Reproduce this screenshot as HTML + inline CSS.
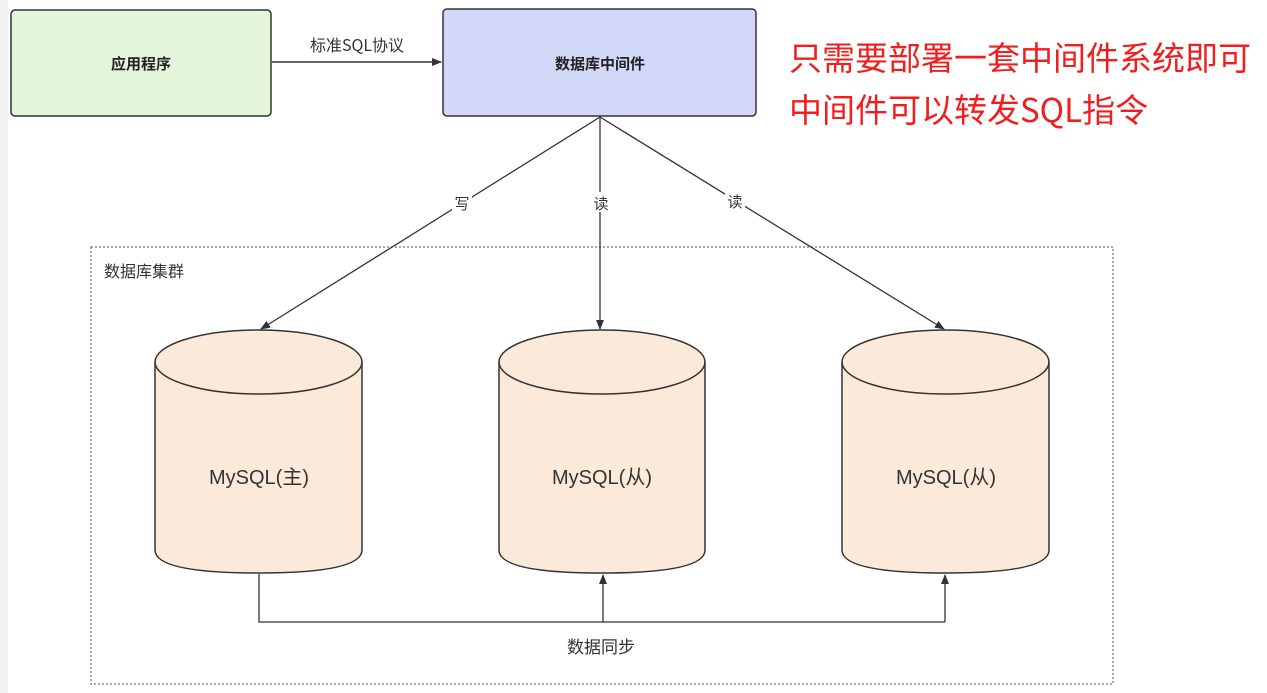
<!DOCTYPE html>
<html><head><meta charset="utf-8"><style>
body{margin:0;width:1267px;height:693px;background:#fff;overflow:hidden;font-family:"Liberation Sans","Noto Sans CJK SC",sans-serif}
</style></head><body>
<svg width="1267" height="693" viewBox="0 0 1267 693" xmlns="http://www.w3.org/2000/svg" style="position:absolute;left:0;top:0">
<defs><marker id="a" markerWidth="10" markerHeight="10" refX="9" refY="5" orient="auto" markerUnits="userSpaceOnUse"><path d="M0,1 L10,5 L0,9 Z" fill="#333"/></marker></defs>
<rect x="0" y="0" width="8" height="693" fill="#f2f2f2"/>
<rect x="11" y="10" width="260" height="106" rx="4" fill="#e3f5da" stroke="#333" stroke-width="1.5"/>
<text x="141" y="69" font-size="15" font-weight="bold" text-anchor="middle" fill="#222" font-family="Noto Sans CJK SC,sans-serif">应用程序</text>
<rect x="443" y="9" width="313" height="107" rx="4" fill="#d3d7f8" stroke="#333" stroke-width="1.5"/>
<text x="600" y="69" font-size="15" font-weight="bold" text-anchor="middle" fill="#222" font-family="Noto Sans CJK SC,sans-serif">数据库中间件</text>
<line x1="272" y1="62" x2="441" y2="62" stroke="#333" stroke-width="1.5" marker-end="url(#a)"/>
<text x="357" y="51" font-size="16" text-anchor="middle" fill="#333" font-family="Noto Sans CJK SC,sans-serif">标准SQL协议</text>
<text x="789" y="70" font-size="33" fill="#f21d1d" font-family="Noto Sans CJK SC,sans-serif">只需要部署一套中间件系统即可</text>
<text x="789" y="122" font-size="33" fill="#f21d1d" font-family="Noto Sans CJK SC,sans-serif">中间件可以转发SQL指令</text>
<rect x="91" y="247" width="1022" height="437" fill="none" stroke="#555" stroke-width="1" stroke-dasharray="2,2"/>
<text x="104" y="277" font-size="16" fill="#333" font-family="Noto Sans CJK SC,sans-serif">数据库集群</text>
<line x1="600" y1="117" x2="261" y2="329" stroke="#333" stroke-width="1.3" marker-end="url(#a)"/>
<line x1="600" y1="117" x2="600" y2="329" stroke="#333" stroke-width="1.3" marker-end="url(#a)"/>
<line x1="600" y1="117" x2="944" y2="329" stroke="#333" stroke-width="1.3" marker-end="url(#a)"/>
<rect x="452" y="192" width="20" height="20" fill="#fff"/><text x="462" y="209" font-size="15" text-anchor="middle" fill="#333" font-family="Noto Sans CJK SC,sans-serif">写</text>
<rect x="591" y="192" width="20" height="20" fill="#fff"/><text x="601" y="209" font-size="15" text-anchor="middle" fill="#333" font-family="Noto Sans CJK SC,sans-serif">读</text>
<rect x="725" y="190" width="20" height="20" fill="#fff"/><text x="735" y="207" font-size="15" text-anchor="middle" fill="#333" font-family="Noto Sans CJK SC,sans-serif">读</text>
<g fill="#fbe9da" stroke="#333" stroke-width="1.5">
<path d="M155,362 A103.5,32 0 0 1 362,362 L362,550 Q362,573 258.5,573 Q155,573 155,550 Z"/>
<path d="M155,362 A103.5,32 0 0 0 362,362" fill="none"/>
<path d="M499,362 A103,32 0 0 1 705,362 L705,550 Q705,573 602,573 Q499,573 499,550 Z"/>
<path d="M499,362 A103,32 0 0 0 705,362" fill="none"/>
<path d="M842,362 A103.5,32 0 0 1 1049,362 L1049,550 Q1049,573 945.5,573 Q842,573 842,550 Z"/>
<path d="M842,362 A103.5,32 0 0 0 1049,362" fill="none"/>
</g>
<g font-size="20" text-anchor="middle" fill="#333" font-family="Liberation Sans,Noto Sans CJK SC,sans-serif">
<text x="259" y="484">MySQL(主)</text>
<text x="602" y="484">MySQL(从)</text>
<text x="946" y="484">MySQL(从)</text>
</g>
<polyline points="259,574 259,622 945,622" fill="none" stroke="#333" stroke-width="1.3"/>
<line x1="603" y1="622" x2="603" y2="575" stroke="#333" stroke-width="1.3" marker-end="url(#a)"/>
<line x1="945" y1="622" x2="945" y2="575" stroke="#333" stroke-width="1.3" marker-end="url(#a)"/>
<text x="601" y="653" font-size="17" text-anchor="middle" fill="#333" font-family="Noto Sans CJK SC,sans-serif">数据同步</text>
</svg>
</body></html>
